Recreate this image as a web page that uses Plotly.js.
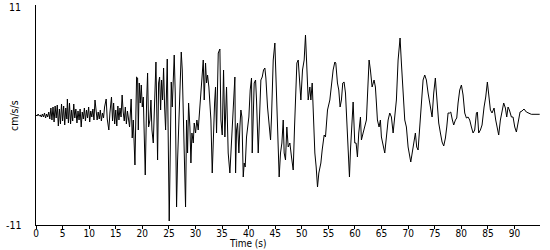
<!DOCTYPE html>
<html>
<head>
<meta charset="utf-8">
<script src="https://cdn.plot.ly/plotly-3.0.1.min.js"></script>
<style>html,body{margin:0;padding:0;background:#fff;}#chart{width:550px;height:250px;}</style>
</head>
<body>
<div id="chart"></div>
<script>
// Time (s) of each read point
const timeS = [
0.0,0.2,0.4,0.6,0.8,1.0,1.2,1.4,1.6,1.8,2.0,2.2,2.4,2.6,2.8,3.0,3.2,3.4,3.6,3.8,
4.0,4.2,4.4,4.6,4.8,5.0,5.2,5.4,5.6,5.8,5.9,6.1,6.3,6.5,6.7,6.9,7.1,7.3,7.5,7.7,
7.9,8.1,8.3,8.5,8.7,8.9,9.1,9.3,9.5,9.7,9.9,10.1,10.3,10.5,10.7,10.9,11.1,11.3,11.5,11.7,
11.9,12.1,12.3,12.5,12.7,12.9,13.2,13.4,13.7,13.9,14.2,14.4,14.6,14.8,15.0,15.2,15.4,15.6,15.8,16.0,
16.2,16.4,16.6,16.8,17.0,17.2,17.4,17.6,17.9,18.1,18.3,18.5,
18.61,18.92,19.11,19.24,19.42,19.61,19.80,19.99,20.18,20.36,20.55,20.80,20.99,21.18,21.43,21.62,21.81,22.06,22.31,22.56,
22.75,22.87,23.06,23.25,23.44,23.62,23.81,24.00,24.19,24.38,24.69,24.88,25.06,25.25,25.44,25.63,25.82,26.00,26.19,26.44,
26.63,26.82,27.07,27.32,27.51,27.70,27.88,28.13,28.32,28.51,28.70,28.95,29.14,29.33,29.58,29.76,30.01,30.26,30.51,30.77,
31.02,31.20,31.46,31.64,31.89,32.08,32.27,32.52,32.71,32.90,33.15,33.40,33.59,33.77,33.96,34.28,34.59,34.78,35.03,35.28,
35.53,35.84,36.15,36.47,36.78,37.09,37.41,
37.54,37.72,37.91,38.16,38.35,38.54,38.73,38.98,39.16,39.35,39.60,39.79,40.04,40.29,40.54,40.67,40.86,41.04,41.30,41.48,
41.80,42.05,42.30,42.55,42.80,43.05,43.24,43.55,43.86,44.12,44.30,44.62,44.93,45.12,45.37,45.56,45.74,45.99,46.25,46.50,
46.68,46.93,47.18,47.44,47.75,48.06,48.38,48.63,48.88,49.07,49.32,49.63,49.82,50.13,50.44,50.69,50.94,51.20,51.51,51.70,
51.95,52.20,52.45,52.70,52.95,53.20,53.58,53.83,54.20,54.45,54.83,55.27,55.58,55.89,56.21,
56.39,56.70,56.95,57.20,57.45,57.70,57.95,58.21,58.46,58.71,58.96,59.15,59.46,59.65,59.96,60.21,60.46,60.71,61.03,61.21,
61.53,61.84,62.15,62.34,62.65,62.90,63.22,63.59,63.84,64.03,64.22,64.53,64.78,64.97,65.29,65.60,65.91,66.23,66.54,66.85,
67.17,67.48,67.79,68.11,68.48,68.73,69.05,69.36,69.67,69.99,70.49,70.74,71.05,71.36,71.61,71.87,72.18,72.49,72.81,73.12,
73.43,73.75,74.06,74.50,74.81,75.12,
75.25,75.50,75.75,76.07,76.38,76.69,77.01,77.26,77.51,77.82,78.01,78.32,78.57,78.89,79.14,79.39,79.70,80.02,80.33,80.64,
80.96,81.27,81.58,81.90,82.21,82.52,82.84,83.02,83.27,83.59,83.90,84.28,84.59,84.90,85.15,85.47,85.78,86.16,86.47,86.78,
87.03,87.35,87.66,87.97,88.29,88.54,88.79,89.04,89.42,89.73,90.05,90.36,90.67,91.05,91.42,91.79,92.23,92.86,93.17,94.74
];
// Acceleration (cm/s/s) read at those times
const accel = [
0.0,-0.1,0.1,-0.1,0.0,-0.2,0.1,-0.2,0.2,-0.3,0.1,-0.2,0.3,-0.4,0.7,-0.5,0.8,-0.7,0.9,-0.3,
1.0,-1.1,0.6,-0.9,1.1,-0.6,0.9,-1.0,0.7,-0.4,1.6,-0.8,1.2,-0.9,0.5,-0.6,1.1,-0.3,0.6,-0.8,
0.4,-0.5,0.6,-1.2,0.3,-0.4,0.7,-0.6,0.5,-0.3,0.8,-0.7,0.4,-0.2,0.6,-0.5,1.5,0.2,-0.5,0.3,
-0.4,0.5,-0.6,0.2,-0.3,0.8,1.6,-0.4,-1.5,0.2,1.8,-0.6,1.2,-0.9,0.5,-1.1,0.9,-0.5,0.7,-0.2,
2.0,0.3,-0.6,0.8,-0.9,0.4,-0.3,-1.2,1.6,-2.3,-0.5,-5.0,
-5.0,3.8,3.7,-1.5,3.2,1.2,3.0,0.8,1.8,-2.0,-6.0,1.2,4.2,-1.2,-0.5,1.5,-1.5,-2.8,1.8,5.3,
-0.5,-4.5,3.2,3.8,0.5,3.5,1.5,4.7,0.8,-1.5,5.6,-0.5,-10.6,-3.8,3.3,0.8,2.8,6.0,2.2,-9.2,
-4.5,-0.8,2.8,6.3,4.5,-0.5,-5.2,-9.2,-0.5,-3.8,1.2,-1.2,-4.8,-1.8,-2.8,-0.8,-1.8,-0.5,-1.5,0.5,
1.8,2.8,5.5,1.5,5.2,3.2,4.0,2.8,1.5,-0.5,-5.8,-0.5,1.2,2.8,-1.8,6.2,6.6,-0.5,-2.0,4.5,
-2.2,2.8,-3.8,-5.8,-2.8,-0.5,3.8,
-5.8,-1.5,-0.8,-3.8,-1.2,0.5,-0.2,-6.2,-4.8,-5.2,-2.2,-1.2,-0.2,2.5,3.7,-3.8,1.2,3.2,3.5,1.5,
-3.8,-0.8,3.5,3.8,4.5,4.7,3.7,0.8,-0.8,-2.5,-0.2,5.5,7.2,3.5,-0.2,-2.8,-6.2,-3.8,-2.8,-0.5,
-3.8,-4.5,-1.2,-3.2,-2.8,-4.2,-5.5,-1.2,2.2,5.2,5.5,3.2,1.5,4.5,5.5,8.0,5.5,1.5,2.8,1.5,
3.2,-0.8,-3.8,-5.2,-7.2,-5.8,-4.8,-3.5,-2.0,-2.2,0.5,1.5,3.2,4.5,5.3,
5.2,3.2,2.5,0.8,1.5,3.2,3.3,2.2,-0.5,-3.8,-6.2,-3.5,-0.5,1.3,-2.8,-2.8,-4.2,-1.8,-0.2,-2.5,
-1.8,-1.2,-0.5,1.8,5.5,4.5,2.8,3.5,2.8,1.2,-0.5,-1.2,-0.5,-2.2,-3.2,-3.8,-2.2,-0.5,0.2,-0.2,
-1.8,-0.2,1.5,5.5,7.7,5.2,1.8,-0.5,-1.2,-3.2,-4.7,-3.8,-3.2,-1.8,-3.2,-3.5,-1.2,1.2,3.5,4.0,
3.5,2.2,1.2,-0.2,2.2,3.7,
2.7,0.8,-0.8,-1.8,-2.7,-3.1,-2.3,-1.2,0.2,0.2,0.3,-0.5,-1.0,-0.5,-0.3,1.2,2.5,3.0,2.0,0.2,
-0.3,-0.2,-0.5,-1.2,-1.8,-1.5,0.2,0.3,-1.8,-1.5,-1.0,0.8,1.8,3.3,1.8,0.5,0.2,0.7,-0.5,-1.5,
-2.0,-0.5,0.2,1.2,0.7,-0.2,0.8,0.5,-0.2,-0.2,-1.2,-1.7,-0.8,0.3,0.4,0.6,0.3,0.1,0.07,0.07
];
const xTickVals = [0,5,10,15,20,25,30,35,40,45,50,55,60,65,70,75,80,85,90];
const xTickText = ["0","5","10","15","20","25","30","35","40","45","50","55","60","65","70","75","80","85","90"];
const yTickVals = [-11, 11];
const yTickText = ["-11", "11"];
const xLabel = "Time (s)";
const yLabel = "cm/s/s";

const FONT = "'Liberation Sans Narrow', 'DejaVu Sans Condensed', 'Liberation Sans', sans-serif";
const f = {family: FONT, size: 10.5, color: '#000'};
const ft = {family: FONT, size: 10, color: '#000'};

const yAnn = yTickVals.map((v, i) => ({
  text: yTickText[i], xref: 'paper', yref: 'y', x: -0.026, y: v,
  xanchor: 'right', yanchor: 'middle', yshift: v > 0 ? -2 : 0,
  showarrow: false, font: f
}));

Plotly.newPlot('chart', [{
  x: timeS, y: accel, type: 'scatter', mode: 'lines',
  line: {color: '#000', width: 1}, hoverinfo: 'skip'
}], {
  width: 550, height: 250,
  margin: {l: 36, r: 10, t: 5, b: 25, pad: 0},
  paper_bgcolor: '#fff', plot_bgcolor: '#fff',
  showlegend: false,
  font: f,
  xaxis: {
    range: [0, 94.8], tickvals: xTickVals, ticktext: xTickText,
    ticks: 'outside', ticklen: 3, tickwidth: 1, tickcolor: '#000',
    showline: true, linecolor: '#000', linewidth: 1, showgrid: false, zeroline: false,
    tickfont: ft, ticklabelstandoff: -4, fixedrange: true
  },
  yaxis: {
    range: [-11, 11], showticklabels: false,
    ticks: '', showline: true, linecolor: '#000', linewidth: 1, showgrid: false, zeroline: false,
    fixedrange: true
  },
  annotations: yAnn.concat([
    {text: xLabel, xref: 'paper', yref: 'paper', x: 0.42, y: -0.084, xanchor: 'center', yanchor: 'middle',
     showarrow: false, font: ft},
    {text: yLabel, xref: 'paper', yref: 'paper', x: -0.0437, y: 0.5, xanchor: 'center', yanchor: 'middle',
     textangle: -90, showarrow: false, font: f}
  ])
}, {staticPlot: true, displayModeBar: false});
</script>
</body>
</html>
